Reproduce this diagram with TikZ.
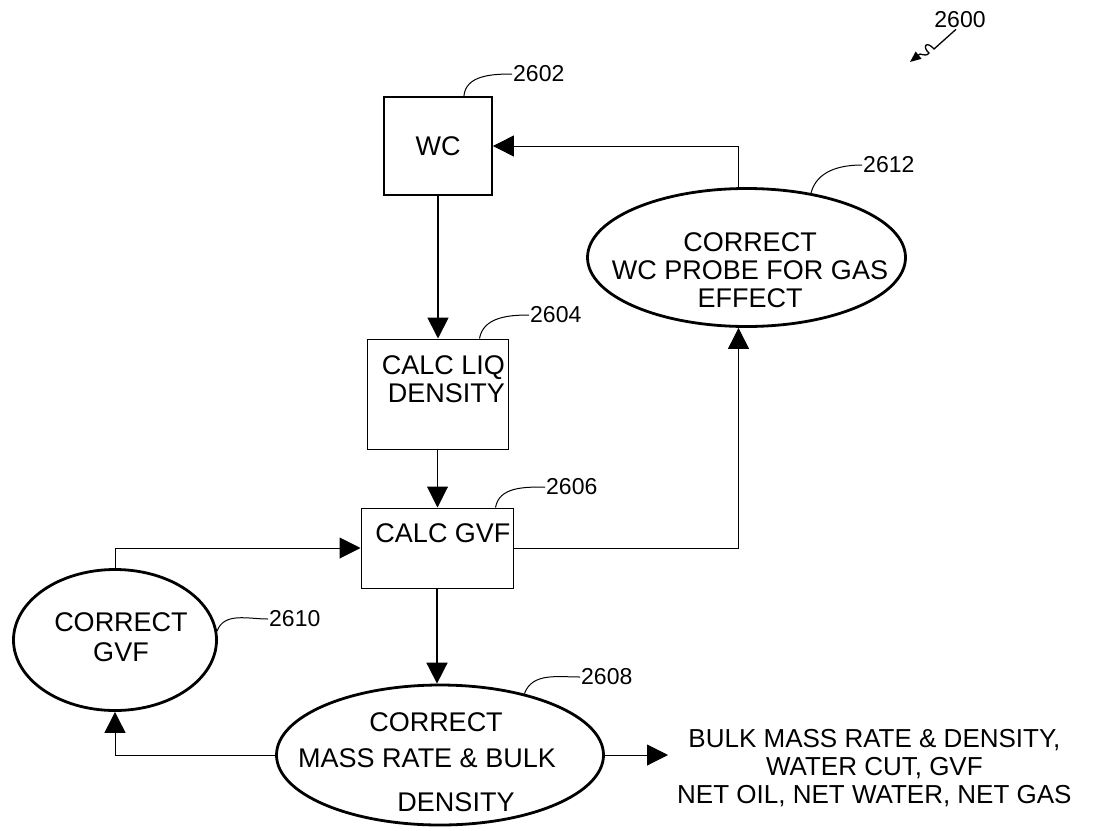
\documentclass[tikz,border=0pt]{standalone}
\usepackage{fontspec}
\setmainfont{Liberation Sans}
\usetikzlibrary{arrows.meta,shapes.geometric}

\begin{document}
\begin{tikzpicture}[x=1pt, y=-1pt,
    >={Triangle[length=21pt, width=21pt]},
    every node/.style={font=\fontsize{27}{28}\selectfont, inner sep=0pt},
    box/.style={draw, rectangle, line width=1pt},
    oval/.style={draw, ellipse, line width=2.8pt},
    tag/.style={font=\fontsize{23}{26}\selectfont, anchor=west, inner sep=1pt},
    leader/.style={line width=1pt}]
    \useasboundingbox (0,0) rectangle (1110,830);

    % WC
    \node[box, line width=1.8pt, minimum width=108, minimum height=98] (wc) at (438,146) {WC};

    % Calc liq density
    \node[box, minimum width=141, minimum height=110] (liq) at (437.5,394) {};
    \node[align=right, anchor=east] (liqtext) at (505,379) {CALC LIQ\\DENSITY};

    % Calc GVF
    \node[box, minimum width=152, minimum height=80] (gvf) at (437,548) {};
    \node (gvftext) at (443,533) {CALC GVF};

    % Correct WC probe for gas effect
    \node[oval, minimum width=318, minimum height=138] (probe) at (746.5,257.5) {};
    \node[align=center] (probetext) at (750,270) {CORRECT\\WC PROBE FOR GAS\\EFFECT};

    % Correct GVF
    \node[oval, minimum width=203, minimum height=141] (gvfc) at (115,640) {};
    \node[align=center] (gvfctext) at (121,637) {CORRECT\\[2pt]GVF};

    % Correct mass rate & bulk density
    \node[oval, minimum width=327, minimum height=140] (mass) at (440,755) {};
    \node[align=center] (masstext) at (427,762) {\hspace*{18pt}CORRECT\\[8pt]MASS RATE \& BULK\\[16pt]\hspace*{58pt}DENSITY};

    % Outputs
    \node[font=\fontsize{26}{28}\selectfont, align=center, anchor=west, inner xsep=9pt] (result) at (668,768) {BULK MASS RATE \& DENSITY,\\WATER CUT, GVF\\NET OIL, NET WATER, NET GAS};

    % Flow
    \draw[->, line width=1.8pt] (wc.south) -- (wc.south |- liq.north);
    \draw[->, line width=1pt] (liq.south) -- (liq.south |- gvf.north);
    \draw[->, line width=1.8pt] (gvf.south) -- (gvf.south |- mass.north);
    \draw[->, line width=1pt] (gvf.east) -| ([xshift=-8pt]probe.south);
    \draw[->, line width=1pt] ([xshift=-8pt]probe.north) |- (wc.east);
    \draw[->, line width=1pt] (gvfc.north) |- (gvf.west);
    \draw[->, line width=1pt] (mass.west) -| (gvfc.south);
    \draw[->, line width=1pt] (mass.east) -- (mass.east -| result.west);

    % Reference numerals
    \node[tag] (t2602) at (512,74) {2602};
    \node[tag] (t2604) at (529,315) {2604};
    \node[tag] (t2606) at (545,487) {2606};
    \node[tag] (t2612) at (862,165) {2612};
    \node[tag] (t2610) at (268,619) {2610};
    \node[tag] (t2608) at (580,677) {2608};
    \node[tag, anchor=center] (t2600) at (960,20) {2600};
    \draw[leader] ([xshift=-29pt]wc.north east) to[out=85, in=180] (t2602.west);
    \draw[leader] ([xshift=-29pt]liq.north east) to[out=80, in=180] (t2604.west);
    \draw[leader] ([xshift=-18pt]gvf.north east) to[out=80, in=180] (t2606.west);
    \draw[leader] (probe.45) to[out=75, in=180] (t2612.west);
    \draw[leader] (gvfc.5) to[out=70, in=180] (t2610.west);
    \draw[leader] (mass.36) to[out=70, in=180] (t2608.west);
    \coordinate (c2600) at (910,62);
    \draw[-{Triangle[length=11pt, width=9pt]}, line width=1.3pt]
        ([xshift=-4pt]t2600.south) -- (934,49) .. controls (926,40) and (922,47) .. (929,53)
        .. controls (927,56) and (924,55) .. (920,54) -- (c2600);
\end{tikzpicture}
\end{document}
